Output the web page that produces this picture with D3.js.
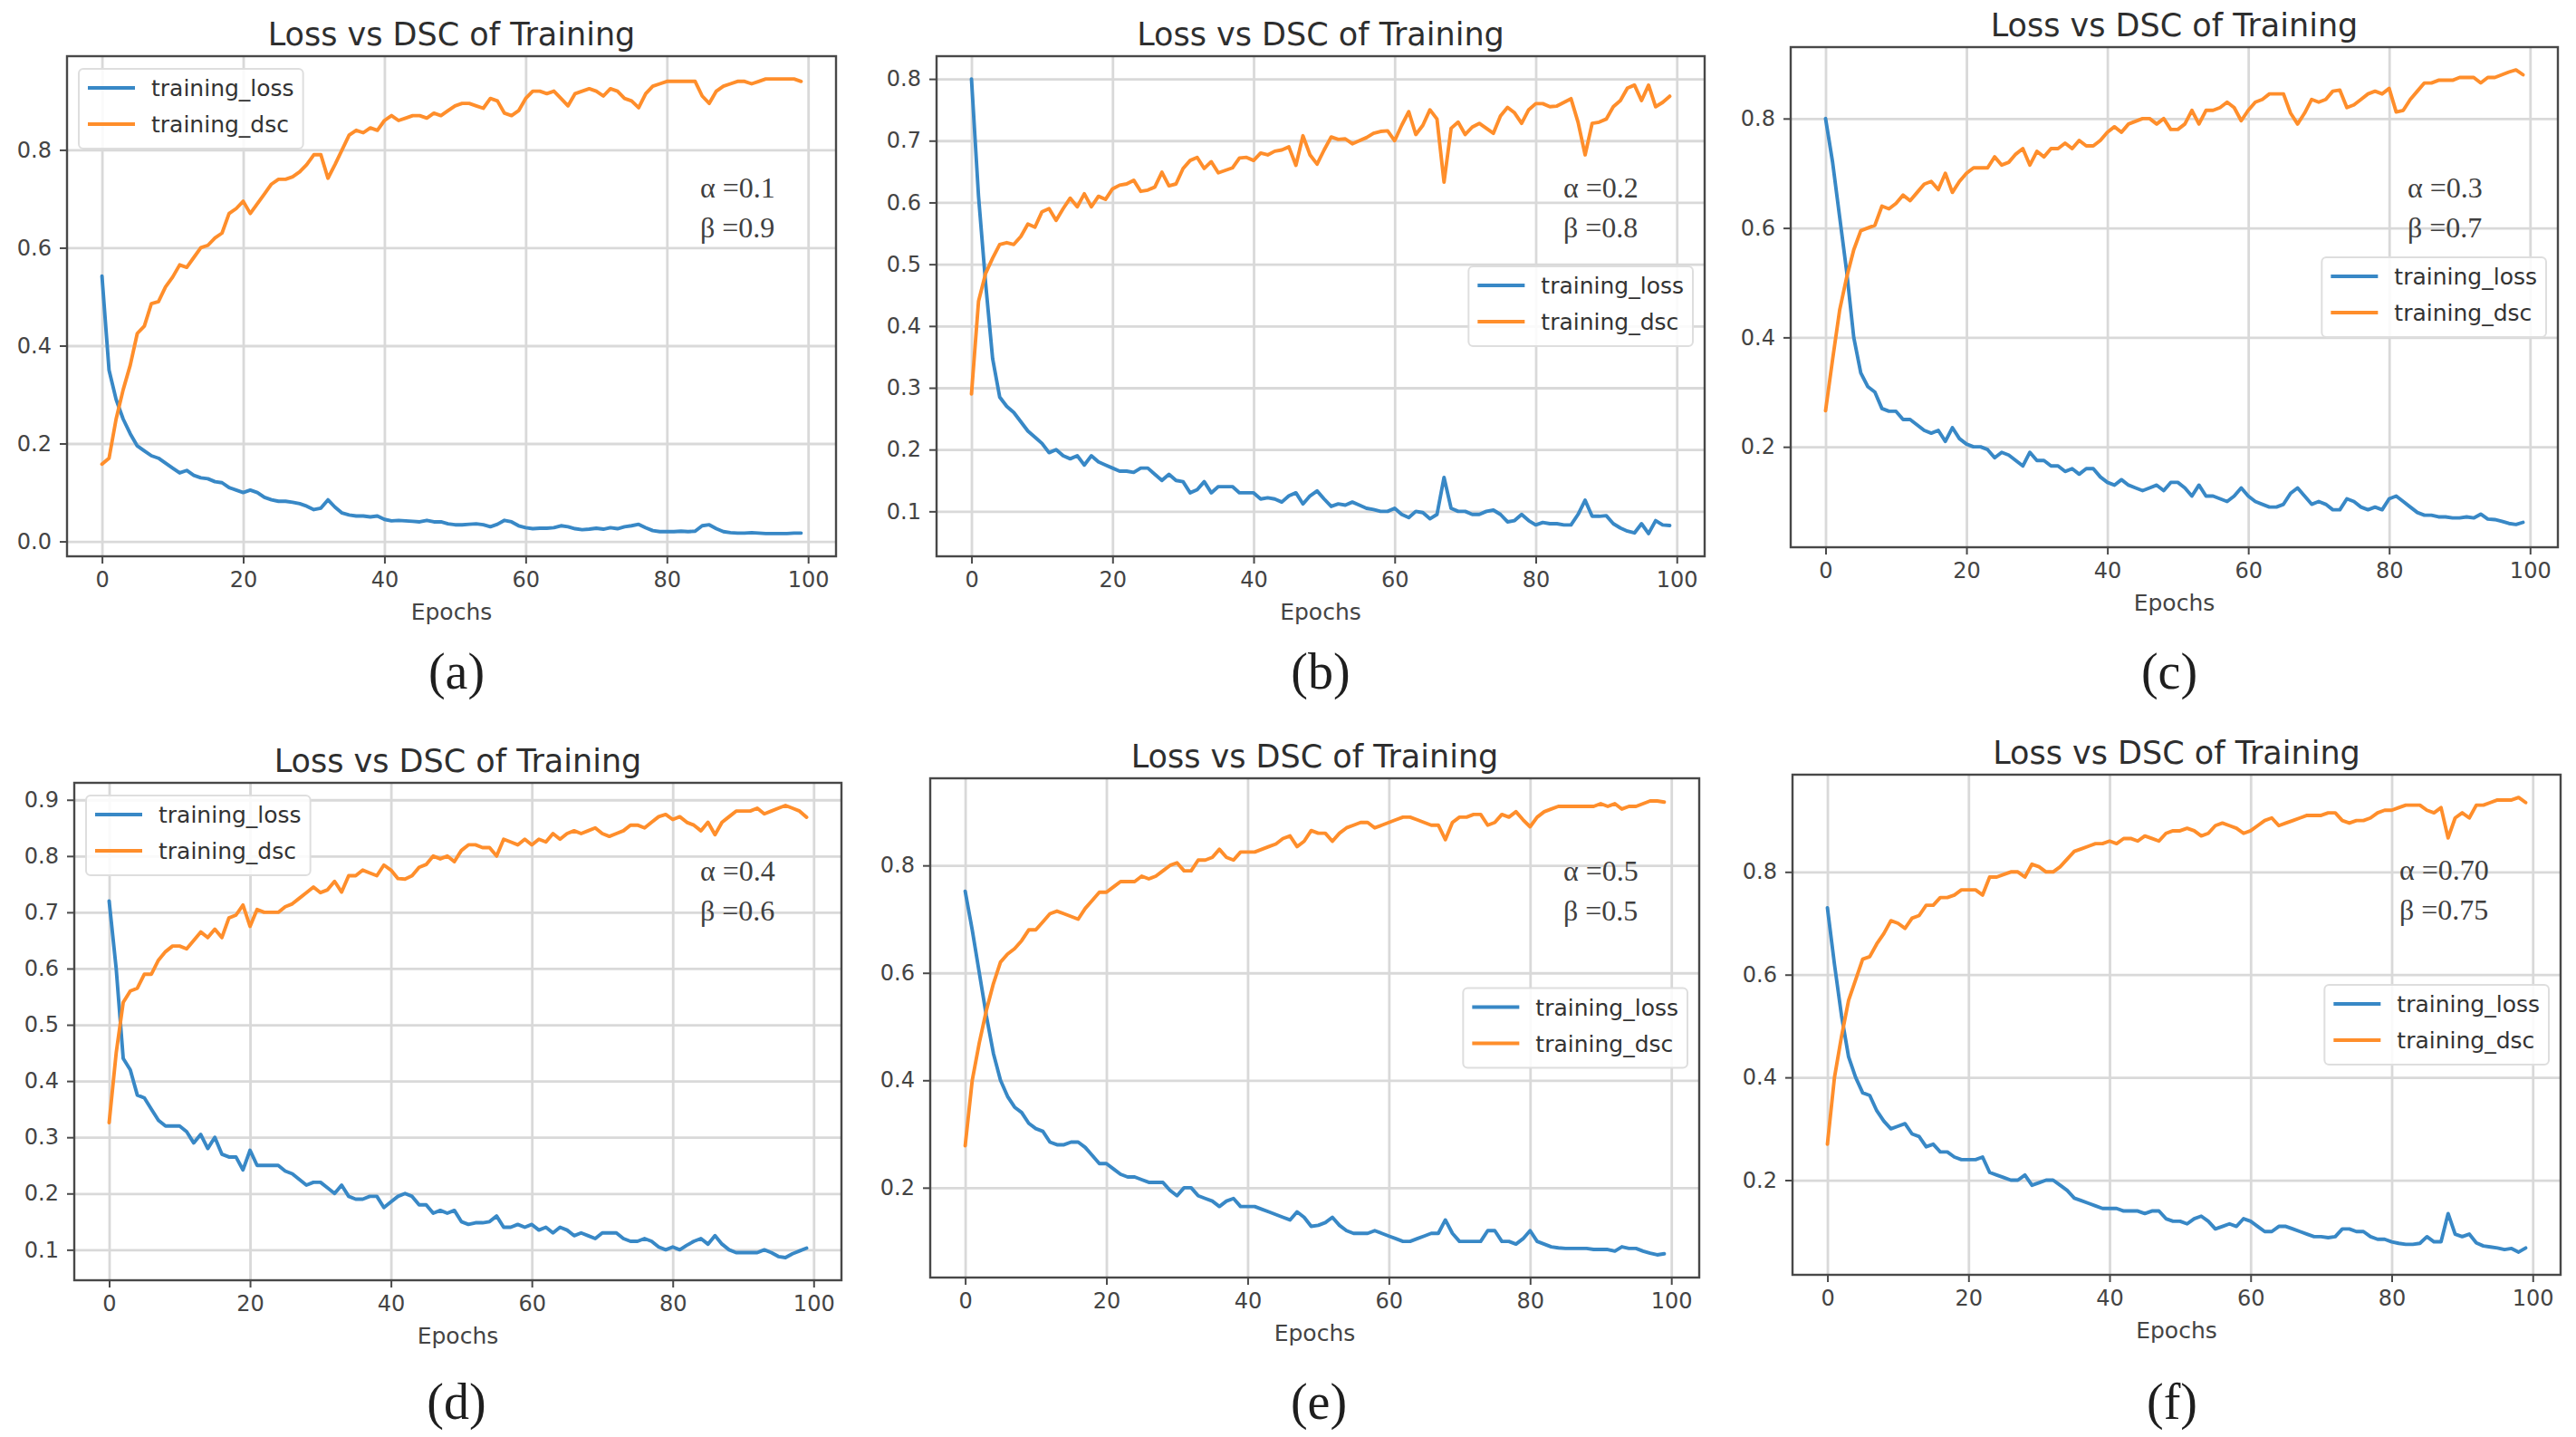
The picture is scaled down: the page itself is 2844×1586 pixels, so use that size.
<!DOCTYPE html>
<html>
<head>
<meta charset="utf-8">
<script src="https://cdn.jsdelivr.net/npm/d3@7"></script>
<style>
  body { margin: 0; background: #fff; }
  svg { display: block; }
</style>
</head>
<body>
<div id="chart"></div>
<script>
var epochs = d3.range(100);
var xTicks = [0, 20, 40, 60, 80, 100];
var seriesNames = ['training_loss', 'training_dsc'];
var seriesColors = ['#3888c6', '#ff8e2b'];

var lossA = [0.542, 0.35, 0.29, 0.25, 0.22, 0.195, 0.185, 0.175, 0.17, 0.16,
  0.15, 0.14, 0.145, 0.135, 0.13, 0.128, 0.122, 0.12, 0.11, 0.105,
  0.10, 0.105, 0.10, 0.09, 0.085, 0.082, 0.082, 0.08, 0.077, 0.072,
  0.065, 0.068, 0.085, 0.07, 0.058, 0.054, 0.052, 0.052, 0.05, 0.052,
  0.045, 0.042, 0.043, 0.042, 0.041, 0.04, 0.043, 0.04, 0.04, 0.036,
  0.034, 0.034, 0.035, 0.036, 0.034, 0.03, 0.035, 0.043, 0.04, 0.032,
  0.028, 0.026, 0.027, 0.027, 0.028, 0.032, 0.03, 0.026, 0.024, 0.025,
  0.027, 0.025, 0.028, 0.026, 0.03, 0.032, 0.035, 0.028, 0.022, 0.02,
  0.02, 0.02, 0.021, 0.02, 0.021, 0.032, 0.034, 0.026, 0.02, 0.018,
  0.017, 0.017, 0.018, 0.017, 0.016, 0.016, 0.016, 0.016, 0.017, 0.017];
var dscA = [0.158, 0.17, 0.25, 0.31, 0.36, 0.425, 0.44, 0.486, 0.49, 0.52,
  0.54, 0.565, 0.56, 0.58, 0.60, 0.605, 0.62, 0.63, 0.67, 0.68,
  0.695, 0.67, 0.69, 0.71, 0.73, 0.74, 0.74, 0.745, 0.755, 0.77,
  0.79, 0.79, 0.742, 0.77, 0.80, 0.83, 0.84, 0.835, 0.845, 0.84,
  0.86, 0.87, 0.86, 0.865, 0.87, 0.87, 0.865, 0.875, 0.87, 0.88,
  0.89, 0.895, 0.895, 0.89, 0.885, 0.905, 0.90, 0.875, 0.87, 0.88,
  0.905, 0.92, 0.92, 0.915, 0.92, 0.905, 0.89, 0.915, 0.92, 0.925,
  0.92, 0.91, 0.925, 0.92, 0.905, 0.90, 0.886, 0.915, 0.93, 0.935,
  0.94, 0.94, 0.94, 0.94, 0.94, 0.91, 0.895, 0.92, 0.93, 0.935,
  0.94, 0.94, 0.935, 0.94, 0.945, 0.945, 0.945, 0.945, 0.945, 0.94];

var lossB = [0.80, 0.61, 0.47, 0.347, 0.285, 0.27, 0.26, 0.245, 0.23, 0.22,
  0.21, 0.195, 0.20, 0.19, 0.185, 0.19, 0.175, 0.19, 0.18, 0.175,
  0.17, 0.165, 0.165, 0.163, 0.17, 0.17, 0.16, 0.15, 0.16, 0.15,
  0.148, 0.13, 0.135, 0.148, 0.13, 0.14, 0.14, 0.14, 0.13, 0.13,
  0.13, 0.12, 0.122, 0.12, 0.115, 0.125, 0.13, 0.112, 0.125, 0.133,
  0.12, 0.108, 0.112, 0.11, 0.115, 0.11, 0.105, 0.103, 0.10, 0.10,
  0.105, 0.095, 0.09, 0.10, 0.098, 0.088, 0.095, 0.155, 0.105, 0.10,
  0.10, 0.095, 0.095, 0.10, 0.102, 0.095, 0.083, 0.085, 0.095, 0.085,
  0.078, 0.082, 0.08, 0.08, 0.078, 0.078, 0.095, 0.118, 0.092, 0.092,
  0.093, 0.08, 0.073, 0.068, 0.065, 0.08, 0.064, 0.085, 0.078, 0.077];
var dscB = [0.29, 0.44, 0.485, 0.51, 0.532, 0.535, 0.532, 0.545, 0.565, 0.56,
  0.585, 0.59, 0.571, 0.59, 0.607, 0.593, 0.614, 0.593, 0.61, 0.605,
  0.622, 0.628, 0.63, 0.636, 0.618, 0.62, 0.625, 0.649, 0.627, 0.63,
  0.655, 0.668, 0.673, 0.655, 0.666, 0.648, 0.652, 0.656, 0.672, 0.673,
  0.668, 0.68, 0.677, 0.683, 0.685, 0.69, 0.66, 0.708, 0.677, 0.662,
  0.685, 0.706, 0.702, 0.703, 0.695, 0.70, 0.705, 0.712, 0.715, 0.716,
  0.70, 0.725, 0.747, 0.71, 0.725, 0.75, 0.735, 0.633, 0.72, 0.73,
  0.71, 0.722, 0.728, 0.72, 0.712, 0.74, 0.754, 0.745, 0.728, 0.75,
  0.76, 0.76, 0.755, 0.756, 0.762, 0.768, 0.73, 0.677, 0.728, 0.73,
  0.735, 0.755, 0.765, 0.785, 0.79, 0.765, 0.79, 0.755, 0.762, 0.772];

var lossC = [0.80, 0.72, 0.62, 0.52, 0.40, 0.335, 0.31, 0.30, 0.27, 0.265,
  0.265, 0.25, 0.25, 0.24, 0.23, 0.225, 0.23, 0.21, 0.235, 0.215,
  0.205, 0.20, 0.20, 0.195, 0.18, 0.19, 0.185, 0.175, 0.165, 0.19,
  0.175, 0.175, 0.165, 0.165, 0.155, 0.16, 0.15, 0.16, 0.16, 0.145,
  0.135, 0.13, 0.14, 0.13, 0.125, 0.12, 0.125, 0.13, 0.12, 0.135,
  0.135, 0.125, 0.11, 0.13, 0.11, 0.11, 0.105, 0.10, 0.11, 0.125,
  0.11, 0.10, 0.095, 0.09, 0.09, 0.095, 0.115, 0.125, 0.11, 0.095,
  0.10, 0.095, 0.085, 0.085, 0.105, 0.10, 0.09, 0.085, 0.09, 0.085,
  0.105, 0.11, 0.10, 0.09, 0.08, 0.075, 0.075, 0.072, 0.072, 0.07,
  0.07, 0.072, 0.07, 0.077, 0.068, 0.067, 0.064, 0.06, 0.058, 0.062];
var dscC = [0.266, 0.36, 0.45, 0.51, 0.56, 0.595, 0.60, 0.605, 0.64, 0.635,
  0.645, 0.66, 0.65, 0.665, 0.68, 0.685, 0.67, 0.70, 0.665, 0.685,
  0.70, 0.71, 0.71, 0.71, 0.73, 0.715, 0.72, 0.735, 0.745, 0.715,
  0.74, 0.73, 0.745, 0.745, 0.755, 0.745, 0.76, 0.75, 0.75, 0.76,
  0.775, 0.785, 0.775, 0.79, 0.795, 0.80, 0.80, 0.79, 0.80, 0.78,
  0.78, 0.79, 0.815, 0.79, 0.815, 0.815, 0.82, 0.83, 0.82, 0.796,
  0.815, 0.83, 0.835, 0.845, 0.845, 0.845, 0.81, 0.79, 0.81, 0.835,
  0.83, 0.835, 0.85, 0.852, 0.82, 0.825, 0.835, 0.845, 0.85, 0.845,
  0.855, 0.812, 0.815, 0.835, 0.85, 0.865, 0.865, 0.87, 0.87, 0.87,
  0.875, 0.875, 0.875, 0.865, 0.875, 0.875, 0.88, 0.885, 0.889, 0.88];

var lossD = [0.72, 0.60, 0.44, 0.42, 0.375, 0.37, 0.35, 0.33, 0.32, 0.32,
  0.32, 0.31, 0.29, 0.305, 0.28, 0.30, 0.27, 0.265, 0.265, 0.242,
  0.277, 0.25, 0.25, 0.25, 0.25, 0.24, 0.235, 0.225, 0.215, 0.22,
  0.22, 0.21, 0.20, 0.215, 0.195, 0.19, 0.19, 0.195, 0.195, 0.175,
  0.185, 0.195, 0.20, 0.195, 0.18, 0.18, 0.165, 0.17, 0.165, 0.17,
  0.15, 0.145, 0.148, 0.148, 0.15, 0.16, 0.14, 0.14, 0.145, 0.14,
  0.145, 0.135, 0.14, 0.13, 0.14, 0.135, 0.125, 0.13, 0.125, 0.12,
  0.13, 0.13, 0.13, 0.12, 0.115, 0.115, 0.12, 0.115, 0.105, 0.10,
  0.105, 0.10, 0.108, 0.115, 0.12, 0.11, 0.125, 0.11, 0.10, 0.095,
  0.095, 0.095, 0.095, 0.10, 0.095, 0.088, 0.086, 0.093, 0.098, 0.103];
var dscD = [0.326, 0.45, 0.54, 0.56, 0.565, 0.59, 0.59, 0.615, 0.63, 0.64,
  0.64, 0.635, 0.65, 0.665, 0.655, 0.67, 0.655, 0.69, 0.695, 0.713,
  0.675, 0.705, 0.70, 0.70, 0.70, 0.71, 0.715, 0.725, 0.735, 0.745,
  0.735, 0.74, 0.755, 0.736, 0.765, 0.765, 0.775, 0.77, 0.765, 0.784,
  0.775, 0.76, 0.759, 0.765, 0.78, 0.785, 0.80, 0.795, 0.80, 0.79,
  0.81, 0.82, 0.82, 0.815, 0.815, 0.80, 0.83, 0.825, 0.82, 0.83,
  0.82, 0.83, 0.825, 0.84, 0.83, 0.84, 0.845, 0.84, 0.845, 0.85,
  0.84, 0.835, 0.84, 0.845, 0.855, 0.855, 0.85, 0.86, 0.87, 0.874,
  0.865, 0.87, 0.86, 0.855, 0.845, 0.86, 0.838, 0.86, 0.87, 0.88,
  0.88, 0.88, 0.885, 0.875, 0.88, 0.885, 0.89, 0.885, 0.88, 0.869];

var lossE = [0.752, 0.68, 0.60, 0.52, 0.45, 0.40, 0.37, 0.35, 0.34, 0.32,
  0.31, 0.305, 0.285, 0.28, 0.28, 0.285, 0.285, 0.275, 0.26, 0.245,
  0.245, 0.235, 0.225, 0.22, 0.22, 0.215, 0.21, 0.21, 0.21, 0.195,
  0.185, 0.20, 0.20, 0.185, 0.18, 0.175, 0.165, 0.175, 0.18, 0.165,
  0.165, 0.165, 0.16, 0.155, 0.15, 0.145, 0.14, 0.155, 0.145, 0.128,
  0.13, 0.135, 0.145, 0.13, 0.12, 0.115, 0.115, 0.115, 0.12, 0.115,
  0.11, 0.105, 0.10, 0.10, 0.105, 0.11, 0.115, 0.115, 0.14, 0.115,
  0.10, 0.10, 0.10, 0.10, 0.12, 0.12, 0.10, 0.10, 0.095, 0.105,
  0.12, 0.10, 0.095, 0.09, 0.088, 0.087, 0.087, 0.087, 0.087, 0.085,
  0.085, 0.085, 0.082, 0.09, 0.087, 0.087, 0.082, 0.078, 0.075, 0.077];
var dscE = [0.278, 0.40, 0.47, 0.53, 0.58, 0.62, 0.635, 0.645, 0.66, 0.68,
  0.68, 0.695, 0.71, 0.715, 0.71, 0.705, 0.70, 0.72, 0.735, 0.75,
  0.75, 0.76, 0.77, 0.77, 0.77, 0.78, 0.775, 0.78, 0.79, 0.80,
  0.805, 0.79, 0.79, 0.81, 0.81, 0.815, 0.83, 0.815, 0.81, 0.825,
  0.825, 0.825, 0.83, 0.835, 0.84, 0.85, 0.855, 0.835, 0.845, 0.865,
  0.86, 0.86, 0.845, 0.86, 0.87, 0.875, 0.88, 0.88, 0.87, 0.875,
  0.88, 0.885, 0.89, 0.89, 0.885, 0.88, 0.875, 0.875, 0.848, 0.88,
  0.89, 0.89, 0.895, 0.895, 0.875, 0.88, 0.895, 0.89, 0.90, 0.885,
  0.872, 0.89, 0.90, 0.905, 0.91, 0.91, 0.91, 0.91, 0.91, 0.91,
  0.915, 0.91, 0.915, 0.905, 0.91, 0.91, 0.915, 0.92, 0.92, 0.918];

var lossF = [0.73, 0.62, 0.52, 0.44, 0.40, 0.37, 0.365, 0.335, 0.315, 0.30,
  0.305, 0.31, 0.29, 0.285, 0.265, 0.27, 0.255, 0.255, 0.245, 0.24,
  0.24, 0.24, 0.245, 0.215, 0.21, 0.205, 0.20, 0.20, 0.21, 0.19,
  0.195, 0.20, 0.20, 0.19, 0.18, 0.165, 0.16, 0.155, 0.15, 0.145,
  0.145, 0.145, 0.14, 0.14, 0.14, 0.135, 0.14, 0.14, 0.125, 0.12,
  0.12, 0.115, 0.125, 0.13, 0.12, 0.105, 0.11, 0.115, 0.11, 0.125,
  0.12, 0.11, 0.10, 0.10, 0.11, 0.11, 0.105, 0.10, 0.095, 0.09,
  0.09, 0.088, 0.09, 0.105, 0.105, 0.10, 0.10, 0.09, 0.085, 0.085,
  0.08, 0.077, 0.075, 0.075, 0.077, 0.09, 0.08, 0.08, 0.135, 0.095,
  0.09, 0.095, 0.078, 0.072, 0.07, 0.068, 0.065, 0.067, 0.06, 0.068];
var dscF = [0.27, 0.40, 0.48, 0.55, 0.59, 0.63, 0.635, 0.66, 0.68, 0.705,
  0.70, 0.69, 0.71, 0.715, 0.735, 0.735, 0.75, 0.75, 0.755, 0.765,
  0.765, 0.765, 0.755, 0.79, 0.79, 0.795, 0.80, 0.80, 0.79, 0.815,
  0.81, 0.80, 0.80, 0.81, 0.825, 0.84, 0.845, 0.85, 0.855, 0.855,
  0.86, 0.855, 0.865, 0.865, 0.86, 0.87, 0.865, 0.86, 0.875, 0.88,
  0.88, 0.885, 0.88, 0.87, 0.875, 0.89, 0.895, 0.89, 0.885, 0.875,
  0.88, 0.89, 0.90, 0.905, 0.89, 0.895, 0.90, 0.905, 0.91, 0.91,
  0.91, 0.915, 0.915, 0.90, 0.895, 0.90, 0.90, 0.905, 0.915, 0.92,
  0.92, 0.925, 0.93, 0.93, 0.93, 0.92, 0.915, 0.925, 0.866, 0.905,
  0.915, 0.905, 0.93, 0.93, 0.935, 0.94, 0.94, 0.94, 0.945, 0.935];

var yTicksA = [0.0, 0.2, 0.4, 0.6, 0.8];
var yTicksB = [0.1, 0.2, 0.3, 0.4, 0.5, 0.6, 0.7, 0.8];
var yTicksC = [0.2, 0.4, 0.6, 0.8];
var yTicksD = [0.1, 0.2, 0.3, 0.4, 0.5, 0.6, 0.7, 0.8, 0.9];
var yTicksE = [0.2, 0.4, 0.6, 0.8];
var yTicksF = [0.2, 0.4, 0.6, 0.8];

var panelLetters = ['(a)', '(b)', '(c)', '(d)', '(e)', '(f)'];
var alphaValues = ['0.1', '0.2', '0.3', '0.4', '0.5', '0.70'];
var betaValues = ['0.9', '0.8', '0.7', '0.6', '0.5', '0.75'];

var panels = [
  {loss: lossA, dsc: dscA, yTicks: yTicksA},
  {loss: lossB, dsc: dscB, yTicks: yTicksB},
  {loss: lossC, dsc: dscC, yTicks: yTicksC},
  {loss: lossD, dsc: dscD, yTicks: yTicksD},
  {loss: lossE, dsc: dscE, yTicks: yTicksE},
  {loss: lossF, dsc: dscF, yTicks: yTicksF}
];

// where each screenshot sits on the page
var layout = [
  {left: 74, right: 923, top: 62, bottom: 614, legend: 'upper left', noteX: 150, noteY: 156, labelX: 504, labelY: 760},
  {left: 1034, right: 1882, top: 62, bottom: 614, legend: 'center right', noteX: 156, noteY: 156, labelX: 1458, labelY: 760},
  {left: 1977, right: 2824, top: 52, bottom: 604, legend: 'center right', noteX: 166, noteY: 166, labelX: 2395, labelY: 760},
  {left: 82, right: 929, top: 864, bottom: 1413, legend: 'upper left', noteX: 156, noteY: 108, labelX: 504, labelY: 1566},
  {left: 1027, right: 1876, top: 859, bottom: 1410, legend: 'center right', noteX: 150, noteY: 113, labelX: 1456, labelY: 1566},
  {left: 1979, right: 2827, top: 855, bottom: 1407, legend: 'center right', noteX: 178, noteY: 116, labelX: 2398, labelY: 1566}
];

var sans = 'DejaVu Sans, sans-serif';
var serif = 'Liberation Serif, Times New Roman, serif';

var svg = d3.select('#chart').append('svg')
  .attr('width', 2844)
  .attr('height', 1586);

svg.append('rect').attr('width', 2844).attr('height', 1586).attr('fill', '#fff');

var drawPanel = function (p, k) {
  var box = layout[k];
  var g = svg.append('g').attr('class', 'panel');

  var x = d3.scaleLinear().domain([-4.95, 103.95]).range([box.left, box.right]);
  var lo = Math.min(d3.min(p.loss), d3.min(p.dsc));
  var hi = Math.max(d3.max(p.loss), d3.max(p.dsc));
  var margin = (hi - lo) * 0.05;
  var y = d3.scaleLinear().domain([lo - margin, hi + margin]).range([box.bottom, box.top]);

  // grid
  var gx = g.append('g')
    .attr('transform', 'translate(0,' + box.bottom + ')')
    .call(d3.axisBottom(x).tickValues(xTicks).tickSize(-(box.bottom - box.top)).tickFormat(''));
  var gy = g.append('g')
    .attr('transform', 'translate(' + box.left + ',0)')
    .call(d3.axisLeft(y).tickValues(p.yTicks).tickSize(-(box.right - box.left)).tickFormat(''));
  [gx, gy].forEach(function (grid) {
    grid.select('.domain').remove();
    grid.selectAll('line').attr('stroke', '#d9d9d9').attr('stroke-width', 2.8);
  });

  // series
  var line = d3.line()
    .x(function (d, i) { return x(epochs[i]); })
    .y(function (d) { return y(d); });

  [p.loss, p.dsc].forEach(function (values, s) {
    g.append('path')
      .datum(values)
      .attr('d', line)
      .attr('fill', 'none')
      .attr('stroke', seriesColors[s])
      .attr('stroke-width', 3.9)
      .attr('stroke-linejoin', 'round')
      .attr('stroke-linecap', 'round');
  });

  // axes
  var ax = g.append('g')
    .attr('transform', 'translate(0,' + box.bottom + ')')
    .call(d3.axisBottom(x).tickValues(xTicks).tickSize(8).tickPadding(9).tickFormat(d3.format('d')));
  var ay = g.append('g')
    .attr('transform', 'translate(' + box.left + ',0)')
    .call(d3.axisLeft(y).tickValues(p.yTicks).tickSize(8).tickPadding(9).tickFormat(d3.format('.1f')));
  [ax, ay].forEach(function (axis) {
    axis.select('.domain').remove();
    axis.selectAll('line').attr('stroke', '#4a4a4a').attr('stroke-width', 2);
    axis.selectAll('text')
      .attr('fill', '#444')
      .style('font-family', sans)
      .style('font-size', '24px');
  });

  g.append('rect')
    .attr('x', box.left)
    .attr('y', box.top)
    .attr('width', box.right - box.left)
    .attr('height', box.bottom - box.top)
    .attr('fill', 'none')
    .attr('stroke', '#484848')
    .attr('stroke-width', 2.4);

  // title and axis label
  g.append('text')
    .attr('x', (box.left + box.right) / 2)
    .attr('y', box.top - 12)
    .attr('text-anchor', 'middle')
    .attr('fill', '#2e2e2e')
    .style('font-family', sans)
    .style('font-size', '35px')
    .text('Loss vs DSC of Training');

  g.append('text')
    .attr('x', (box.left + box.right) / 2)
    .attr('y', box.bottom + 70)
    .attr('text-anchor', 'middle')
    .attr('fill', '#444')
    .style('font-family', sans)
    .style('font-size', '25px')
    .text('Epochs');

  // legend
  var legend = g.append('g');
  var frame = legend.append('rect');
  var textWidth = 0;
  seriesNames.forEach(function (name, s) {
    var cy = 21 + s * 40;
    legend.append('line')
      .attr('x1', 10).attr('x2', 62)
      .attr('y1', cy).attr('y2', cy)
      .attr('stroke', seriesColors[s])
      .attr('stroke-width', 3.9);
    var t = legend.append('text')
      .attr('x', 80)
      .attr('y', cy + 9)
      .attr('fill', '#333')
      .style('font-family', sans)
      .style('font-size', '25px')
      .text(name);
    textWidth = Math.max(textWidth, t.node().getComputedTextLength());
  });
  var legendW = 80 + textWidth + 10;
  var legendH = 88;
  frame.attr('width', legendW).attr('height', legendH)
    .attr('rx', 5).attr('ry', 5)
    .attr('fill', 'rgba(255,255,255,0.85)')
    .attr('stroke', '#dedede')
    .attr('stroke-width', 2);
  var lx, ly;
  if (box.legend === 'upper left') {
    lx = box.left + 13;
    ly = box.top + 14;
  } else {
    lx = box.right - 13 - legendW;
    ly = (box.top + box.bottom) / 2 - legendH / 2;
  }
  legend.attr('transform', 'translate(' + lx + ',' + ly + ')');

  // alpha / beta note
  g.append('text')
    .attr('x', box.right - box.noteX)
    .attr('y', box.top + box.noteY)
    .attr('fill', '#3f3f3f')
    .style('font-family', serif)
    .style('font-size', '32px')
    .text('\u03b1 =' + alphaValues[k]);
  g.append('text')
    .attr('x', box.right - box.noteX)
    .attr('y', box.top + box.noteY + 44)
    .attr('fill', '#3f3f3f')
    .style('font-family', serif)
    .style('font-size', '32px')
    .text('\u03b2 =' + betaValues[k]);

  // sub-figure letter
  svg.append('text')
    .attr('x', box.labelX)
    .attr('y', box.labelY)
    .attr('text-anchor', 'middle')
    .attr('fill', '#1e1e1e')
    .style('font-family', serif)
    .style('font-size', '56px')
    .text(panelLetters[k]);
};

panels.forEach(drawPanel);
</script>
</body>
</html>
